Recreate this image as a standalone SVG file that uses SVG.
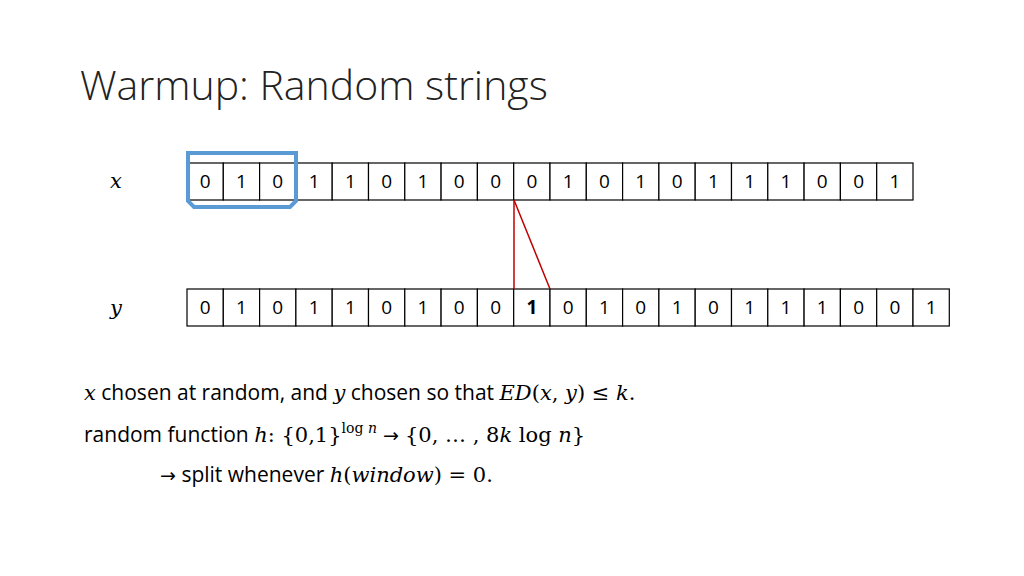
<svg xmlns="http://www.w3.org/2000/svg" width="1024" height="576" viewBox="0 0 1024 576">
<style>
.c{fill:#fff;stroke:#000;stroke-width:1.2}
.d{font-family:"Open Sans","Liberation Sans",sans-serif;font-size:19px;text-anchor:middle;fill:#000}
.t{font-family:"Open Sans","Liberation Sans",sans-serif;font-size:21px;fill:#000}
.m{font-family:"DejaVu Serif",serif;font-style:italic;font-size:21px}
.r{font-family:"DejaVu Serif",serif;font-size:21px}
.s{font-family:"DejaVu Serif",serif;font-size:14px}
.a{font-family:"DejaVu Sans",sans-serif;font-size:19px}
</style>
<rect width="1024" height="576" fill="#fff"/>
<text x="80" y="100" font-family="Open Sans,Liberation Sans,sans-serif" font-weight="300" font-size="41" fill="#222">Warmup: Random strings</text>
<text x="116" y="188" class="m" text-anchor="middle">x</text>
<text x="116" y="315" class="m" text-anchor="middle">y</text>
<g id="rowx">
<rect class="c" x="187" y="163" width="36.3" height="37"/><text class="d" x="205.2" y="188">0</text>
<rect class="c" x="223.3" y="163" width="36.3" height="37"/><text class="d" x="241.5" y="188">1</text>
<rect class="c" x="259.6" y="163" width="36.3" height="37"/><text class="d" x="277.8" y="188">0</text>
<rect class="c" x="295.9" y="163" width="36.3" height="37"/><text class="d" x="314.1" y="188">1</text>
<rect class="c" x="332.2" y="163" width="36.3" height="37"/><text class="d" x="350.4" y="188">1</text>
<rect class="c" x="368.5" y="163" width="36.3" height="37"/><text class="d" x="386.7" y="188">0</text>
<rect class="c" x="404.8" y="163" width="36.3" height="37"/><text class="d" x="423" y="188">1</text>
<rect class="c" x="441.1" y="163" width="36.3" height="37"/><text class="d" x="459.3" y="188">0</text>
<rect class="c" x="477.4" y="163" width="36.3" height="37"/><text class="d" x="495.6" y="188">0</text>
<rect class="c" x="513.7" y="163" width="36.3" height="37"/><text class="d" x="531.9" y="188">0</text>
<rect class="c" x="550" y="163" width="36.3" height="37"/><text class="d" x="568.2" y="188">1</text>
<rect class="c" x="586.3" y="163" width="36.3" height="37"/><text class="d" x="604.5" y="188">0</text>
<rect class="c" x="622.6" y="163" width="36.3" height="37"/><text class="d" x="640.8" y="188">1</text>
<rect class="c" x="658.9" y="163" width="36.3" height="37"/><text class="d" x="677.1" y="188">0</text>
<rect class="c" x="695.2" y="163" width="36.3" height="37"/><text class="d" x="713.4" y="188">1</text>
<rect class="c" x="731.5" y="163" width="36.3" height="37"/><text class="d" x="749.7" y="188">1</text>
<rect class="c" x="767.8" y="163" width="36.3" height="37"/><text class="d" x="786" y="188">1</text>
<rect class="c" x="804.1" y="163" width="36.3" height="37"/><text class="d" x="822.3" y="188">0</text>
<rect class="c" x="840.4" y="163" width="36.3" height="37"/><text class="d" x="858.6" y="188">0</text>
<rect class="c" x="876.7" y="163" width="36.3" height="37"/><text class="d" x="894.9" y="188">1</text>
</g>
<g id="rowy">
<rect class="c" x="187" y="289" width="36.3" height="37"/><text class="d" x="205.2" y="314">0</text>
<rect class="c" x="223.3" y="289" width="36.3" height="37"/><text class="d" x="241.5" y="314">1</text>
<rect class="c" x="259.6" y="289" width="36.3" height="37"/><text class="d" x="277.8" y="314">0</text>
<rect class="c" x="295.9" y="289" width="36.3" height="37"/><text class="d" x="314.1" y="314">1</text>
<rect class="c" x="332.2" y="289" width="36.3" height="37"/><text class="d" x="350.4" y="314">1</text>
<rect class="c" x="368.5" y="289" width="36.3" height="37"/><text class="d" x="386.7" y="314">0</text>
<rect class="c" x="404.8" y="289" width="36.3" height="37"/><text class="d" x="423" y="314">1</text>
<rect class="c" x="441.1" y="289" width="36.3" height="37"/><text class="d" x="459.3" y="314">0</text>
<rect class="c" x="477.4" y="289" width="36.3" height="37"/><text class="d" x="495.6" y="314">0</text>
<rect class="c" x="513.7" y="289" width="36.3" height="37"/><text class="d" x="531.9" y="314" font-weight="bold">1</text>
<rect class="c" x="550" y="289" width="36.3" height="37"/><text class="d" x="568.2" y="314">0</text>
<rect class="c" x="586.3" y="289" width="36.3" height="37"/><text class="d" x="604.5" y="314">1</text>
<rect class="c" x="622.6" y="289" width="36.3" height="37"/><text class="d" x="640.8" y="314">0</text>
<rect class="c" x="658.9" y="289" width="36.3" height="37"/><text class="d" x="677.1" y="314">1</text>
<rect class="c" x="695.2" y="289" width="36.3" height="37"/><text class="d" x="713.4" y="314">0</text>
<rect class="c" x="731.5" y="289" width="36.3" height="37"/><text class="d" x="749.7" y="314">1</text>
<rect class="c" x="767.8" y="289" width="36.3" height="37"/><text class="d" x="786" y="314">1</text>
<rect class="c" x="804.1" y="289" width="36.3" height="37"/><text class="d" x="822.3" y="314">1</text>
<rect class="c" x="840.4" y="289" width="36.3" height="37"/><text class="d" x="858.6" y="314">0</text>
<rect class="c" x="876.7" y="289" width="36.3" height="37"/><text class="d" x="894.9" y="314">0</text>
<rect class="c" x="913" y="289" width="36.3" height="37"/><text class="d" x="931.2" y="314">1</text>
</g>
<g id="window">
<path d="M188,153 H296 V201 L290,207 H194 L188,201 Z" fill="none" stroke="#5b9bd5" stroke-width="4"/>
</g>
<g id="connectors" stroke="#c00000" stroke-width="1.5" fill="none">
<line x1="514" y1="200" x2="514" y2="289"/>
<line x1="514" y1="200" x2="550" y2="289"/>
</g>
<text x="84" y="400" class="t"><tspan class="m">x</tspan> chosen at random, and <tspan class="m">y</tspan> chosen so that <tspan class="m">ED</tspan><tspan class="r">(</tspan><tspan class="m">x</tspan><tspan class="r">, </tspan><tspan class="m">y</tspan><tspan class="r">) ≤ </tspan><tspan class="m">k</tspan><tspan class="r">.</tspan></text>
<text x="84" y="442" class="t">random function <tspan class="m">h</tspan><tspan class="r">: {0,1}</tspan><tspan class="s" dy="-9">log <tspan font-style="italic">n</tspan></tspan><tspan class="a" dy="9"> → </tspan><tspan class="r">{0, … , 8</tspan><tspan class="m">k</tspan><tspan class="r"> log </tspan><tspan class="m">n</tspan><tspan class="r">}</tspan></text>
<text x="160" y="482" class="t"><tspan class="a">→</tspan> split whenever <tspan class="m">h</tspan><tspan class="r">(</tspan><tspan class="m">window</tspan><tspan class="r">) = 0.</tspan></text>
</svg>
